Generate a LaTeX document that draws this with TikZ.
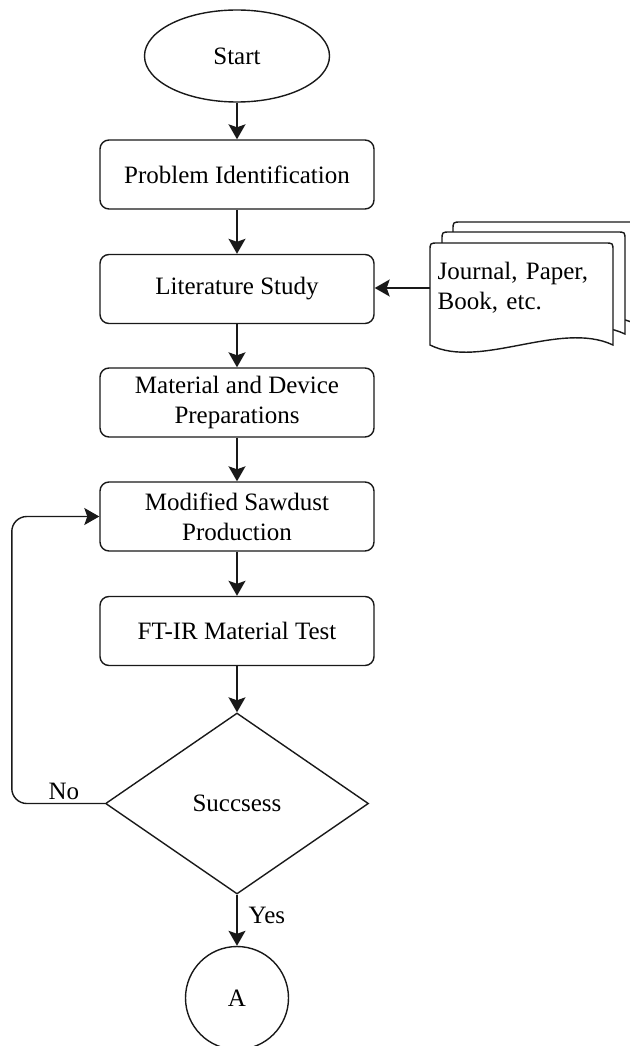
\documentclass[tikz,border=0pt]{standalone}
\usepackage{fontspec}
\setmainfont{Liberation Serif}
\usepackage{tikz}
\usetikzlibrary{arrows.meta,positioning,shapes.geometric}
\definecolor{trait}{RGB}{25,25,25}

\begin{document}
\begin{tikzpicture}[x=1pt,y=-1pt,line width=1.4pt,draw=trait,
	font=\fontsize{25}{30}\selectfont,
	etape/.style={draw,rounded corners=9pt,minimum width=274pt,minimum height=69pt,align=center,inner sep=2pt},
	fleche/.style={-{Stealth[length=15pt,width=17pt,inset=3pt]}},
	etiq/.style={inner sep=3pt}]
				
				\useasboundingbox (0,0) rectangle (629,1046);
				
				\node[draw,ellipse,minimum width=185pt,minimum height=92pt] (start) at (237,56) {Start};
				\node[etape] (prob) at (237,174.5) {Problem Identification};
				\node[etape] (lit) at (237,289) {Literature Study};
				\node[etape] (mat) at (237,402.5) {Material and Device\\Preparations};
				\node[etape] (mod) at (237,516.5) {Modified Sawdust\\Production};
				\node[etape] (ftir) at (237,631) {FT-IR Material Test};
				\node[draw,diamond,aspect=1.45,minimum width=263pt,minimum height=181pt,inner sep=0pt] (dec) at (237,803.5) {Succsess};
				\node[draw,circle,minimum size=103pt,inner sep=0pt] (A) at (237,998) {A};
				
				% pile de documents
				\foreach \dx/\dy in {23/-21,12/-11,0/0}
				\draw[fill=white,shift={(\dx,\dy)}]
				(430,345) -- (430,251) .. controls (430,243) .. (438,243)
				-- (605,243) .. controls (613,243) .. (613,251) -- (613,345)
				.. controls (560,320) and (480,370) .. (430,345) -- cycle;
				
				\node[anchor=west,text width=169pt,align=left,inner sep=7pt] (docs) at (430,288)
				{Journal, Paper,\\Book, etc.};
				
				\draw[fleche] (start) -- (prob);
				\draw[fleche] (prob) -- (lit);
				\draw[fleche] (lit) -- (mat);
				\draw[fleche] (mat) -- (mod);
				\draw[fleche] (mod) -- (ftir);
				\draw[fleche] (ftir.south) -- (dec.north);
				\draw[fleche] (docs.west) -- (docs.west -| lit.east);
				\draw[fleche] (dec.south) -- node[etiq,right,pos=0.4,xshift=8pt] {Yes} (A.north);
				\draw[fleche,rounded corners=15pt] (dec.west) -- node[etiq,above,pos=0.44] {No} ++(-93,0) |- (mod.west);
				
			\end{tikzpicture}
\end{document}
